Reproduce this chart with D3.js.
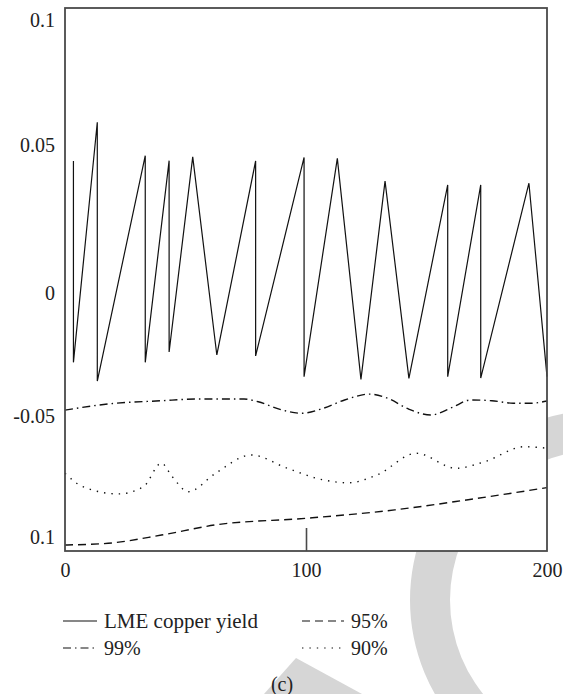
<!DOCTYPE html>
<html>
<head>
<meta charset="utf-8">
<script src="https://cdn.jsdelivr.net/npm/d3@7"></script>
<style>
  body { margin: 0; background: #fff; }
  svg text { font-family: "Liberation Serif", "Times New Roman", serif; fill: #222; }
</style>
</head>
<body>
<div id="chart"></div>
<script>
// settings
var svgWidth = 563;
var svgHeight = 694;
var fontSize = 20;
var frameColor = "#4a4a4a";
var lineColor = "#111";
var watermarkColor = "#d6d6d6";

var margin = {
	top: 8,
	right: 16,
	bottom: 143,
	left: 65
};

var width = svgWidth - margin.left - margin.right;
var height = svgHeight - margin.top - margin.bottom;

// data: LME copper yield (sawtooth, each vertex)
var yieldT = [3.5, 3.5, 13.4, 13.4, 33.3, 33.3, 43.2, 43.2, 53.0, 63.0, 79.1, 79.1,
	99.2, 99.2, 113.0, 122.8, 132.8, 142.7, 158.8, 158.8, 172.5, 172.5, 192.5, 200];
var yieldV = [0.0446, -0.0282, 0.0591, -0.0358, 0.0464, -0.0282, 0.0447, -0.0240,
	0.0460, -0.0252, 0.0446, -0.0256, 0.0458, -0.0340, 0.0455, -0.0351, 0.0378,
	-0.0347, 0.0365, -0.0340, 0.0365, -0.0346, 0.0371, -0.0340];

// 99% band
var q99T = [0, 17.9, 40.0, 54.9, 74.3, 80.2, 89.2, 98.1, 107.1, 116.0, 126.4, 133.9,
	142.8, 151.8, 160.7, 168.2, 177.1, 186.0, 193.4, 200];
var q99V = [-0.0476, -0.0451, -0.0438, -0.0431, -0.0431, -0.0442, -0.0473, -0.0489,
	-0.0469, -0.0435, -0.0411, -0.0428, -0.0473, -0.0496, -0.0465, -0.0435, -0.0438,
	-0.0448, -0.0448, -0.0439];

// 95% band
var q95T = [0, 17.9, 40.0, 62.4, 99.6, 136.8, 166.6, 200];
var q95V = [-0.1033, -0.1026, -0.0992, -0.0950, -0.0923, -0.0888, -0.0847, -0.0796];

// 90% band
var q90T = [0, 7.4, 22.2, 32.6, 40.0, 44.5, 51.2, 62.4, 77.3, 92.2, 107.1, 117.5,
	129.4, 145.8, 162.2, 174.1, 190.5, 200];
var q90V = [-0.0737, -0.0792, -0.0822, -0.0792, -0.0695, -0.0751, -0.0813, -0.0737,
	-0.0661, -0.0716, -0.0764, -0.0776, -0.0744, -0.0654, -0.0716, -0.0689, -0.0627,
	-0.0633];

// tick labels (the bottom one is printed "0.1" in the original)
var xTickValues = [0, 100, 200];
var yTickValues = [0.1, 0.05, 0, -0.05, -0.1];
var yTickLabels = ["0.1", "0.05", "0", "-0.05", "0.1"];

// legend
var legendLabels = ["LME copper yield", "95%", "99%", "90%"];
var panelLabel = "(c)";

// line styles for each series
var series = [
	{ t: yieldT, v: yieldV, dash: null, curve: d3.curveLinear },
	{ t: q95T, v: q95V, dash: "8,5", curve: d3.curveMonotoneX },
	{ t: q99T, v: q99V, dash: "8,4,1.5,4", curve: d3.curveMonotoneX },
	{ t: q90T, v: q90V, dash: "1.4,6", curve: d3.curveMonotoneX }
];

var svg = d3.select("#chart")
	.append("svg")
	.attr("width", svgWidth)
	.attr("height", svgHeight);

// background watermark (publisher logo fragments)
var wm = svg.append("g").attr("fill", watermarkColor);
wm.append("path")
	.attr("transform", "translate(600, 600)")
	.attr("d", d3.arc()
		.innerRadius(150)
		.outerRadius(190)
		.startAngle(0)
		.endAngle(Math.PI * 2)());
wm.append("path")
	.attr("d", "M296,658 L362,694 L264,694 Z");

var chartGroup = svg.append("g")
	.attr("transform", `translate(${margin.left}, ${margin.top})`);

// scales
var xScale = d3.scaleLinear()
	.domain([0, 200])
	.range([0, width]);

// the printed labels are not evenly spaced, so map each tick to its spot
var yScale = d3.scaleLinear()
	.domain(yTickValues)
	.range([12, 137, 285, 408, 529]);

// plot area
chartGroup.append("rect")
	.attr("width", width)
	.attr("height", height)
	.attr("fill", "#fff");

// x axis with one inner tick at 100
var bottomAxis = d3.axisBottom(xScale)
	.tickValues(xTickValues)
	.tickSizeInner(-23)
	.tickSizeOuter(0)
	.tickPadding(12)
	.tickFormat(d3.format("d"));

var xAxis = chartGroup.append("g")
	.attr("transform", `translate(0, ${height})`)
	.call(bottomAxis);
xAxis.select(".domain").remove();
xAxis.selectAll(".tick line")
	.attr("stroke", frameColor)
	.attr("stroke-width", 1.6)
	.attr("display", d => d === 100 ? null : "none");

var leftAxis = d3.axisLeft(yScale)
	.tickValues(yTickValues)
	.tickSize(0)
	.tickPadding(10)
	.tickFormat((d, i) => yTickLabels[i]);

var yAxis = chartGroup.append("g").call(leftAxis);
yAxis.select(".domain").remove();

svg.selectAll(".tick text")
	.attr("font-size", fontSize)
	.attr("font-family", "Liberation Serif")
	.attr("fill", "#222");

// lines
var line = d3.line()
	.x(d => xScale(d[0]))
	.y(d => yScale(d[1]));

series.forEach(function (s) {
	var pts = s.t.map((t, i) => [t, s.v[i]]);
	chartGroup.append("path")
		.datum(pts)
		.attr("fill", "none")
		.attr("stroke", lineColor)
		.attr("stroke-width", s.dash ? 1.4 : 1.2)
		.attr("stroke-dasharray", s.dash)
		.attr("d", line.curve(s.curve));
});

// frame
chartGroup.append("rect")
	.attr("width", width)
	.attr("height", height)
	.attr("fill", "none")
	.attr("stroke", frameColor)
	.attr("stroke-width", 1.8);

// legend (2 columns x 2 rows)
var legend = svg.append("g");
var legendCols = [63, 302];
var legendRows = [621, 648];
legendLabels.forEach(function (label, i) {
	var gx = legendCols[i % 2];
	var gy = legendRows[Math.floor(i / 2)];
	legend.append("line")
		.attr("x1", gx)
		.attr("x2", gx + (i % 2 ? 42 : 34))
		.attr("y1", gy)
		.attr("y2", gy)
		.attr("stroke", lineColor)
		.attr("stroke-width", 1.2)
		.attr("stroke-dasharray", series[i === 1 ? 1 : i === 2 ? 2 : i].dash);
	legend.append("text")
		.attr("x", gx + (i % 2 ? 49 : 41))
		.attr("y", gy)
		.attr("dy", "0.33em")
		.attr("font-size", i === 0 ? 21 : fontSize)
		.text(label);
});

svg.append("text")
	.attr("x", 282)
	.attr("y", 684)
	.attr("dy", "0.33em")
	.attr("text-anchor", "middle")
	.attr("font-size", fontSize)
	.text(panelLabel);
</script>
</body>
</html>
